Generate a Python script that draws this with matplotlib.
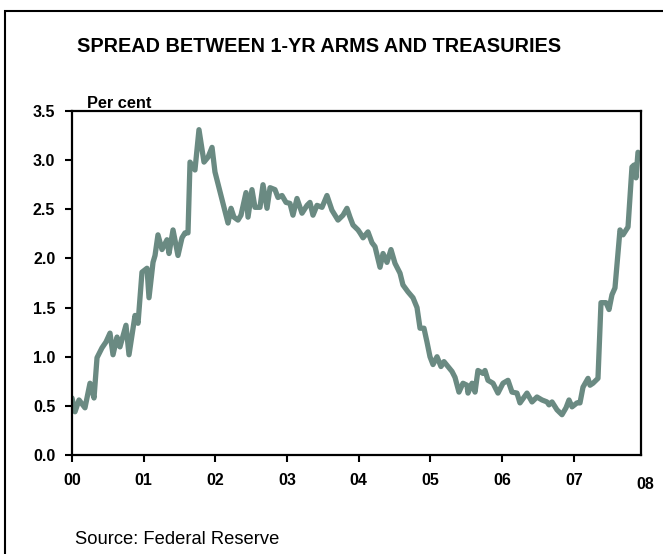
import matplotlib
matplotlib.use('Agg')
import matplotlib.pyplot as plt
import matplotlib.patches as patches

plt.rcParams['font.family'] = ['Liberation Sans', 'DejaVu Sans']

# years since start of 2000, spread in per cent
years = [0.000, 0.042, 0.098, 0.181, 0.251, 0.307, 0.349, 0.418, 0.474, 0.530,
	0.572, 0.628, 0.669, 0.753, 0.795, 0.879, 0.921, 0.976, 1.046, 1.074,
	1.130, 1.158, 1.199, 1.255, 1.325, 1.353, 1.409, 1.478, 1.534, 1.576,
	1.618, 1.646, 1.715, 1.771, 1.841, 1.897, 1.953, 1.994, 2.064, 2.106,
	2.176, 2.218, 2.259, 2.315, 2.357, 2.427, 2.455, 2.510, 2.552, 2.622,
	2.664, 2.720, 2.762, 2.831, 2.873, 2.929, 2.985, 3.040, 3.082, 3.138,
	3.208, 3.278, 3.319, 3.361, 3.417, 3.487, 3.556, 3.626, 3.710, 3.780,
	3.835, 3.877, 3.919, 3.989, 4.017, 4.059, 4.128, 4.184, 4.226, 4.296,
	4.338, 4.393, 4.449, 4.505, 4.575, 4.616, 4.686, 4.756, 4.812, 4.854,
	4.909, 4.951, 4.993, 5.035, 5.091, 5.146, 5.188, 5.244, 5.300, 5.342,
	5.397, 5.453, 5.509, 5.523, 5.579, 5.621, 5.662, 5.732, 5.760, 5.802,
	5.872, 5.941, 6.011, 6.081, 6.137, 6.206, 6.248, 6.346, 6.416, 6.485,
	6.555, 6.625, 6.653, 6.695, 6.764, 6.834, 6.890, 6.932, 6.974, 7.043,
	7.085, 7.127, 7.197, 7.225, 7.266, 7.336, 7.378, 7.448, 7.490, 7.531,
	7.573, 7.643, 7.685, 7.755, 7.810, 7.838, 7.866, 7.894]
spread = [0.58, 0.44, 0.56, 0.48, 0.73, 0.58, 0.99, 1.09, 1.15, 1.24,
	1.02, 1.20, 1.10, 1.32, 1.02, 1.42, 1.34, 1.86, 1.90, 1.60,
	1.96, 2.03, 2.24, 2.09, 2.19, 2.05, 2.29, 2.03, 2.21, 2.26,
	2.26, 2.98, 2.90, 3.31, 2.98, 3.03, 3.13, 2.88, 2.68, 2.56,
	2.36, 2.51, 2.42, 2.39, 2.44, 2.67, 2.42, 2.70, 2.52, 2.52,
	2.75, 2.51, 2.72, 2.70, 2.62, 2.64, 2.57, 2.56, 2.44, 2.61,
	2.46, 2.54, 2.57, 2.44, 2.54, 2.52, 2.64, 2.49, 2.39, 2.44,
	2.51, 2.42, 2.34, 2.29, 2.26, 2.21, 2.27, 2.16, 2.12, 1.91,
	2.05, 1.96, 2.09, 1.95, 1.85, 1.73, 1.66, 1.60, 1.50, 1.29,
	1.29, 1.15, 1.00, 0.92, 1.00, 0.90, 0.95, 0.90, 0.85, 0.79,
	0.64, 0.73, 0.71, 0.63, 0.73, 0.64, 0.86, 0.83, 0.86, 0.76,
	0.73, 0.63, 0.73, 0.76, 0.64, 0.63, 0.53, 0.63, 0.54, 0.59,
	0.56, 0.54, 0.51, 0.54, 0.46, 0.41, 0.48, 0.56, 0.49, 0.53,
	0.53, 0.69, 0.78, 0.71, 0.73, 0.78, 1.55, 1.55, 1.48, 1.63,
	1.70, 2.29, 2.24, 2.32, 2.93, 2.95, 2.82, 3.08]

yearTicks = [0, 1, 2, 3, 4, 5, 6, 7]
yearLabels = ['00', '01', '02', '03', '04', '05', '06', '07']
lastLabel = '08'
valueTicks = [0.0, 0.5, 1.0, 1.5, 2.0, 2.5, 3.0, 3.5]

lineColor = '#6a8a82'
tickFontsize = 11.5

fig = plt.figure(figsize=(6.63, 5.54), dpi=100)
ax = fig.add_axes([72 / 663, 1 - 455 / 554, (641 - 72) / 663, (455 - 111) / 554])

ax.plot(years, spread, color=lineColor, lw=3.8, solid_joinstyle='round', solid_capstyle='round')

ax.set_xlim(0, 7.936)
ax.set_ylim(0, 3.5)
ax.set_xticks(yearTicks)
ax.set_xticklabels(yearLabels)
ax.set_yticks(valueTicks)
ax.set_yticklabels(['%.1f' % v for v in valueTicks])
ax.tick_params(direction='out', length=5, width=1.5, labelsize=tickFontsize)
ax.tick_params(axis='x', pad=8)
ax.tick_params(axis='y', pad=7)
for lbl in ax.get_xticklabels() + ax.get_yticklabels():
	lbl.set_fontweight('bold')
for sp in ax.spines.values():
	sp.set_linewidth(1.6)

# the last year label sits past the right edge with no tick
ax.text(8, -0.30, lastLabel, transform=ax.transData, ha='center', va='center',
	fontsize=tickFontsize, fontweight='bold', clip_on=False)

ax.text(0.026, 1.0, 'Per cent', transform=ax.transAxes, ha='left', va='bottom',
	fontsize=11.8, fontweight='bold')

fig.text(319 / 663, 1 - 47 / 554, 'SPREAD BETWEEN 1-YR ARMS AND TREASURIES',
	ha='center', va='center', fontsize=14.3, fontweight='bold')
fig.text(75 / 663, 1 - 540 / 554, 'Source: Federal Reserve', ha='left', va='center', fontsize=13.2)

frame = patches.Rectangle((5 / 663, -0.1), 1.2, 1.1 - 11 / 554, transform=fig.transFigure,
	fill=False, edgecolor='black', lw=1.5)
fig.patches.append(frame)

plt.savefig('out.png', dpi=100)
plt.close()
